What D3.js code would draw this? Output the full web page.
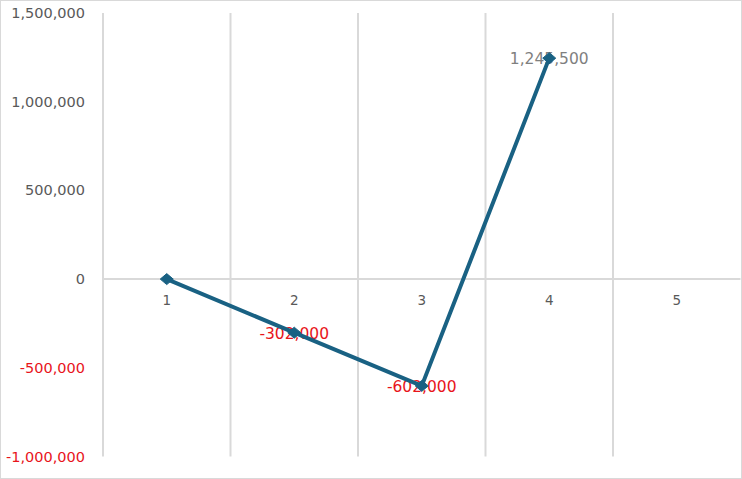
<!DOCTYPE html>
<html>
<head>
<meta charset="utf-8">
<script src="https://cdn.jsdelivr.net/npm/d3@7"></script>
<style>
  html, body { margin: 0; padding: 0; background: #fff; }
  svg { display: block; }
</style>
</head>
<body>
<div id="chart"></div>
<script>
const categories = ["1", "2", "3", "4", "5"];
const values = [0, -302000, -602000, 1245500];
const labelShown = [false, true, true, true];
const yTicks = [-1000000, -500000, 0, 500000, 1000000, 1500000];

const W = 742, H = 479;
const svg = d3.select("#chart").append("svg").attr("width", W).attr("height", H);

svg.append("rect").attr("x", 0.5).attr("y", 0.5).attr("width", W - 1).attr("height", H - 1)
  .attr("fill", "#fff").attr("stroke", "#d9d9d9").attr("stroke-width", 1);

const plot = { left: 103, right: 740.5, top: 13, bottom: 456.5 };

const x = d3.scaleBand().domain(categories).range([plot.left, plot.right]).paddingInner(0).paddingOuter(0);
const y = d3.scaleLinear().domain([-1000000, 1500000]).range([plot.bottom, plot.top]);

const fmtBase = d3.format(",");
const fmt = v => fmtBase(v).replace("\u2212", "-");
const font = "'DejaVu Sans', sans-serif";
const lineColor = "#196183";
const gridColor = "#d9d9d9";

// vertical gridlines at category boundaries
const bounds = categories.map(c => x(c));
svg.append("g").selectAll("line").data(bounds).join("line")
  .attr("x1", d => d).attr("x2", d => d)
  .attr("y1", plot.top).attr("y2", plot.bottom)
  .attr("stroke", gridColor).attr("stroke-width", 2);

// x axis line at zero
svg.append("line")
  .attr("x1", plot.left - 1).attr("x2", plot.right)
  .attr("y1", y(0)).attr("y2", y(0))
  .attr("stroke", gridColor).attr("stroke-width", 2);

// y tick labels
svg.append("g").selectAll("text").data(yTicks).join("text")
  .attr("x", 85).attr("y", d => y(d))
  .attr("text-anchor", "end").attr("dominant-baseline", "central")
  .attr("font-family", font).attr("font-size", 14.5)
  .attr("fill", d => d < 0 ? "#e8141b" : "#595959")
  .text(d => fmt(d));

// x category labels
svg.append("g").selectAll("text").data(categories).join("text")
  .attr("x", d => x(d) + x.bandwidth() / 2).attr("y", y(0) + 21)
  .attr("text-anchor", "middle").attr("dominant-baseline", "central")
  .attr("font-family", font).attr("font-size", 13.5)
  .attr("fill", "#595959")
  .text(d => d);

const pts = values.map((v, i) => ({ cx: x(categories[i]) + x.bandwidth() / 2, cy: y(v), v, show: labelShown[i] }));

// data labels (beneath line)
svg.append("g").selectAll("text").data(pts.filter(p => p.show)).join("text")
  .attr("x", p => p.cx).attr("y", p => p.cy + 1)
  .attr("text-anchor", "middle").attr("dominant-baseline", "central")
  .attr("font-family", font).attr("font-size", 15.5)
  .attr("fill", p => p.v < 0 ? "#e8141b" : "#7f7f7f")
  .text(p => fmt(p.v));

// line
const line = d3.line().x(p => p.cx).y(p => p.cy);
svg.append("path").datum(pts).attr("d", line)
  .attr("fill", "none").attr("stroke", lineColor).attr("stroke-width", 4)
  .attr("stroke-linejoin", "round").attr("stroke-linecap", "round");

// diamond markers
svg.append("g").selectAll("path").data(pts).join("path")
  .attr("d", p => `M${p.cx - 6.5},${p.cy} L${p.cx},${p.cy - 5.5} L${p.cx + 6.5},${p.cy} L${p.cx},${p.cy + 5.5} Z`)
  .attr("fill", lineColor).attr("stroke", lineColor).attr("stroke-width", 1);
</script>
</body>
</html>
